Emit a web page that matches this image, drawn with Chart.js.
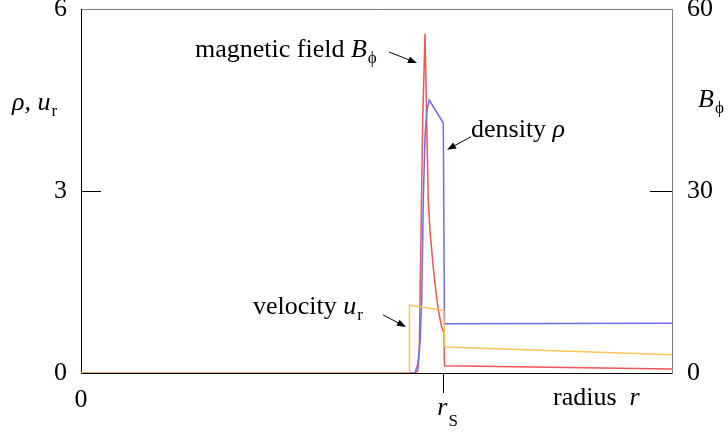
<!DOCTYPE html>
<html>
<head>
<meta charset="utf-8">
<script src="https://cdn.jsdelivr.net/npm/chart.js@4.4.1/dist/chart.umd.min.js"></script>
<style>
  html, body { margin: 0; padding: 0; background: #fff; }
  #c { display: block; }
</style>
</head>
<body>
<canvas id="c" width="728" height="432"></canvas>
<script>
// radius in arbitrary units (0..100), shock radius r_S ~ 61.3
const xMax = 100;
const rShock = 61.3;

// magnetic field B_phi (right axis, 0..60)
const bX   = [0, 56.7, 57.0, 57.24, 57.48, 57.82, 58.21, 58.49, 58.76, 59.05, 59.34, 59.62, 59.9, 60.18, 60.46, 60.75, 61.03, 61.42, 61.5, 100];
const bVal = [0, 0, 0.5, 3.3, 19.8, 41.7, 55.9, 41.7, 28.5, 23.5, 20.3, 17.3, 14.8, 12.4, 10.4, 8.9, 7.6, 6.6, 1.2, 0.66];

// density rho (left axis, 0..6)
const rhoX   = [0, 56.5, 57.0, 57.36, 57.65, 57.92, 58.21, 58.49, 58.93, 61.3, 61.5, 100];
const rhoVal = [0, 0, 0.15, 0.5, 1.2, 2.85, 3.9, 4.3, 4.5, 4.12, 0.81, 0.82];

// velocity u_r (left axis, 0..6)
const uX   = [0, 55.5, 55.58, 61.38, 61.56, 100];
const uVal = [0, 0, 1.12, 1.03, 0.43, 0.30];

const leftTicks  = [0, 3, 6];
const rightTicks = [0, 30, 60];

const FONT = '"Liberation Serif", "Times New Roman", serif';
const pts = (xs, ys) => xs.map((x, i) => ({ x, y: ys[i] }));

// draw text made of pieces (italic / subscript)
function rich(ctx, parts, x, y) {
  let cx = x;
  parts.forEach(p => {
    const size = p.sub ? 17 : 26;
    ctx.font = `${p.it ? 'italic ' : ''}${size}px ${FONT}`;
    ctx.fillText(p.t, cx + (p.dx || 0), y + (p.sub ? 6 : 0) + (p.dy || 0));
    cx += ctx.measureText(p.t).width + (p.dx || 0);
  });
}

function arrow(ctx, x1, y1, x2, y2) {
  const a = Math.atan2(y2 - y1, x2 - x1);
  ctx.beginPath(); ctx.moveTo(x1, y1); ctx.lineTo(x2 - 6 * Math.cos(a), y2 - 6 * Math.sin(a)); ctx.stroke();
  ctx.beginPath();
  ctx.moveTo(x2, y2);
  ctx.lineTo(x2 - 9 * Math.cos(a) + 3.5 * Math.sin(a), y2 - 9 * Math.sin(a) - 3.5 * Math.cos(a));
  ctx.lineTo(x2 - 9 * Math.cos(a) - 3.5 * Math.sin(a), y2 - 9 * Math.sin(a) + 3.5 * Math.cos(a));
  ctx.closePath(); ctx.fill();
}

const frame = {
  id: 'frame',
  beforeDatasetsDraw(chart) {
    const { ctx, chartArea: a, scales } = chart;
    ctx.save();
    ctx.lineWidth = 1;
    // top + right in grey
    ctx.strokeStyle = '#7f7f7f';
    ctx.beginPath(); ctx.moveTo(a.left, a.top + 0.5); ctx.lineTo(a.right + 0.5, a.top + 0.5); ctx.lineTo(a.right + 0.5, a.bottom); ctx.stroke();
    // left + bottom in black
    ctx.strokeStyle = '#000';
    ctx.beginPath(); ctx.moveTo(a.left + 0.5, a.top); ctx.lineTo(a.left + 0.5, a.bottom + 0.5); ctx.lineTo(a.right + 0.5, a.bottom + 0.5); ctx.stroke();
    // inner mid ticks
    const yl = Math.round(scales.yL.getPixelForValue(leftTicks[1])) + 0.5;
    const yr = Math.round(scales.yR.getPixelForValue(rightTicks[1])) + 0.5;
    ctx.beginPath(); ctx.moveTo(a.left, yl); ctx.lineTo(a.left + 20, yl); ctx.stroke();
    ctx.beginPath(); ctx.moveTo(a.right - 22, yr); ctx.lineTo(a.right, yr); ctx.stroke();
    // r_S tick below axis
    const xs = Math.round(scales.x.getPixelForValue(rShock)) + 0.5;
    ctx.beginPath(); ctx.moveTo(xs, a.bottom); ctx.lineTo(xs, a.bottom + 20); ctx.stroke();
    ctx.restore();
  },
  afterDraw(chart) {
    const { ctx, scales } = chart;
    const X = v => scales.x.getPixelForValue(v);
    ctx.save();
    ctx.fillStyle = '#000'; ctx.strokeStyle = '#000'; ctx.lineWidth = 1;
    ctx.textBaseline = 'alphabetic'; ctx.textAlign = 'left';

    // axis titles
    rich(ctx, [{ t: 'ρ, ', it: true }, { t: 'u', it: true }, { t: 'r', sub: true, dx: 1 }], 12, 110);
    rich(ctx, [{ t: 'B', it: true }, { t: 'ϕ', sub: true, dx: 1 }], 698, 107);

    // x labels
    ctx.font = `26px ${FONT}`; ctx.textAlign = 'center';
    ctx.fillText('0', X(0), 407);
    ctx.textAlign = 'left';
    rich(ctx, [{ t: 'r', it: true }, { t: 'S', sub: true, dx: 1, dy: 5 }], X(rShock) - 6, 415);
    rich(ctx, [{ t: 'radius  ' }, { t: 'r', it: true }], 553, 405);

    // annotations
    rich(ctx, [{ t: 'magnetic field ' }, { t: 'B', it: true }, { t: 'ϕ', sub: true, dx: 1 }], 195, 57);
    let tx = X(56.85), ty = scales.yR.getPixelForValue(51.1);
    arrow(ctx, tx - 28, ty - 11, tx, ty);

    rich(ctx, [{ t: 'density ' }, { t: 'ρ', it: true }], 471, 137);
    tx = X(61.93); ty = scales.yL.getPixelForValue(3.68);
    arrow(ctx, tx + 24, ty - 13, tx, ty);

    rich(ctx, [{ t: 'velocity ' }, { t: 'u', it: true }, { t: 'r', sub: true, dx: 1 }], 253, 314);
    tx = X(54.99); ty = scales.yL.getPixelForValue(0.76);
    arrow(ctx, tx - 23, ty - 12, tx, ty);
    ctx.restore();
  }
};

const noPad = s => { s.paddingTop = 0; s.paddingBottom = 0; s.paddingLeft = 0; s.paddingRight = 0; };

new Chart(document.getElementById('c'), {
  type: 'line',
  data: {
    datasets: [
      { label: 'velocity', data: pts(uX, uVal), yAxisID: 'yL', borderColor: 'rgb(250,196,90)' },
      { label: 'density', data: pts(rhoX, rhoVal), yAxisID: 'yL', borderColor: 'rgb(108,108,240)' },
      { label: 'magnetic field', data: pts(bX, bVal), yAxisID: 'yR', borderColor: 'rgb(240,84,84)' }
    ]
  },
  options: {
    responsive: false,
    animation: false,
    elements: { point: { radius: 0 }, line: { borderWidth: 1.5, tension: 0 } },
    layout: { padding: { top: 9, left: 0, right: 0, bottom: 0 } },
    plugins: { legend: { display: false }, tooltip: { enabled: false } },
    scales: {
      x: {
        type: 'linear', min: 0, max: xMax,
        grid: { display: false }, border: { display: false },
        ticks: { display: false },
        afterFit: s => { s.height = 59; noPad(s); }
      },
      yL: {
        position: 'left', min: 0, max: 6,
        grid: { display: false }, border: { display: false },
        afterBuildTicks: s => { s.ticks = leftTicks.map(v => ({ value: v })); },
        ticks: { color: '#000', padding: 6, font: { family: FONT, size: 26 } },
        afterFit: s => { s.width = 81; noPad(s); }
      },
      yR: {
        position: 'right', min: 0, max: 60,
        grid: { display: false }, border: { display: false },
        afterBuildTicks: s => { s.ticks = rightTicks.map(v => ({ value: v })); },
        ticks: { color: '#000', padding: 7, font: { family: FONT, size: 26 } },
        afterFit: s => { s.width = 56; noPad(s); }
      }
    }
  },
  plugins: [frame]
});
</script>
</body>
</html>
